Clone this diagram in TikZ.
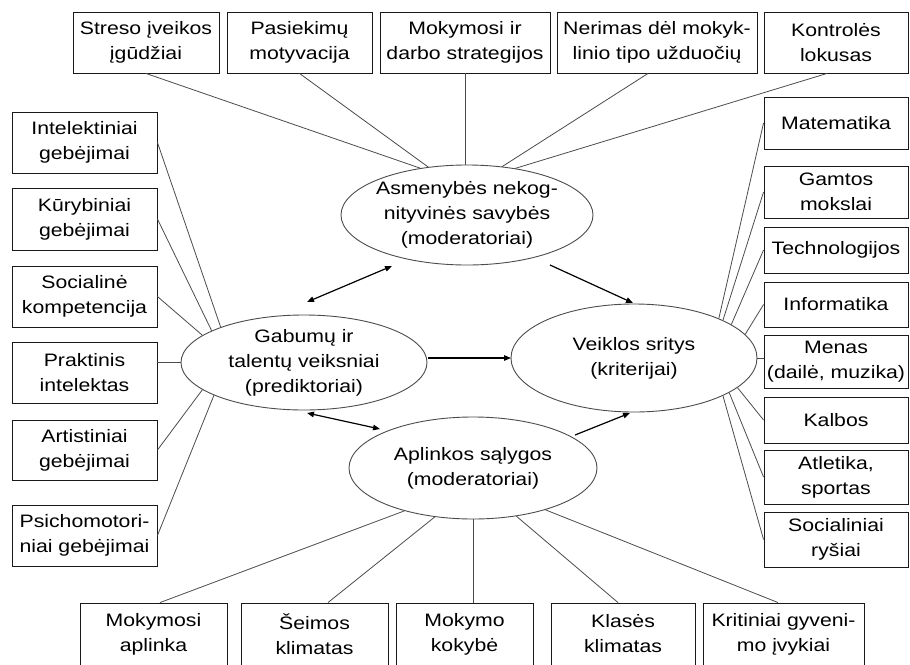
\documentclass[tikz,border=0pt]{standalone}
\usepackage{fontspec}
\setmainfont{Liberation Sans}[FakeStretch=1.18]
\usetikzlibrary{arrows.meta,shapes.geometric,calc}
\begin{document}
\begin{tikzpicture}[x=1pt,y=-1pt,
  box/.style={draw=black!90, line width=0.9pt, rectangle, inner sep=0pt, align=center, font=\fontsize{18}{25}\selectfont},
  oval/.style={draw=black!70, line width=0.9pt, ellipse, inner sep=0pt, align=center, font=\fontsize{18}{25}\selectfont},
  link/.style={draw=black!70, line width=0.8pt},
  arr/.style={draw=black, line width=1.2pt, -{Triangle[length=7pt,width=5.5pt]}},
  darr/.style={draw=black, line width=1.2pt, {Triangle[length=7pt,width=5.5pt]}-{Triangle[length=7pt,width=5.5pt]}}
]
\useasboundingbox (0,0) rectangle (910,664);
\fill[white] (0,0) rectangle (910,664);
\clip (0,0) rectangle (910,664);

% top boxes
\node[box, minimum width=146, minimum height=61] (t1) at (146,42.5) {Streso įveikos\\įgūdžiai};
\node[box, minimum width=145, minimum height=61] (t2) at (299.5,42.5) {Pasiekimų\\motyvacija};
\node[box, minimum width=170, minimum height=61] (t3) at (465,42.5) {Mokymosi ir\\darbo strategijos};
\node[box, minimum width=200, minimum height=61] (t4) at (657,42.5) {Nerimas dėl mokyk-\\linio tipo užduočių};
\node[box, minimum width=144, minimum height=61] (t5) at (836,42.5) {Kontrolės\\lokusas};

% left boxes
\node[box, minimum width=145, minimum height=61] (l1) at (84.5,142.5) {Intelektiniai\\gebėjimai};
\node[box, minimum width=145, minimum height=62] (l2) at (84.5,219) {Kūrybiniai\\gebėjimai};
\node[box, minimum width=145, minimum height=61] (l3) at (84.5,296.5) {Socialinė\\kompetencija};
\node[box, minimum width=145, minimum height=61] (l4) at (84.5,372.5) {Praktinis\\intelektas};
\node[box, minimum width=145, minimum height=60] (l5) at (84.5,450) {Artistiniai\\gebėjimai};
\node[box, minimum width=145, minimum height=61] (l6) at (84.5,535.5) {Psichomotori-\\niai gebėjimai};

% right boxes
\node[box, minimum width=144, minimum height=52] (r1) at (836,123) {Matematika};
\node[box, minimum width=144, minimum height=52] (r2) at (836,192) {Gamtos\\mokslai};
\node[box, minimum width=144, minimum height=46] (r3) at (836,250) {Technologijos};
\node[box, minimum width=144, minimum height=45] (r4) at (836,304.5) {Informatika};
\node[box, minimum width=144, minimum height=53] (r5) at (836,361.5) {Menas\\(dailė, muzika)};
\node[box, minimum width=144, minimum height=46] (r6) at (836,420) {Kalbos};
\node[box, minimum width=144, minimum height=54] (r7) at (836,477) {Atletika,\\sportas};
\node[box, minimum width=144, minimum height=55] (r8) at (836,539.5) {Socialiniai\\ryšiai};

% bottom boxes
\node[box, minimum width=147, minimum height=62] (b1) at (153.5,634) {Mokymosi\\aplinka};
\node[box, minimum width=147, minimum height=62] (b2) at (314.5,634) {Šeimos\\klimatas};
\node[box, minimum width=137, minimum height=62] (b3) at (464.5,634) {Mokymo\\kokybė};
\node[box, minimum width=144, minimum height=62] (b4) at (623,634) {Klasės\\klimatas};
\node[box, minimum width=161, minimum height=62] (b5) at (783.5,634) {Kritiniai gyveni-\\mo įvykiai};

% ellipses
\node[oval, inner xsep=-3pt, minimum width=252, minimum height=100] (asm) at (467,215) {Asmenybės nekog-\\nityvinės savybės\\(moderatoriai)};
\node[oval, minimum width=246, minimum height=95] (gab) at (304,362.5) {Gabumų ir\\talentų veiksniai\\(prediktoriai)};
\node[oval, minimum width=246, minimum height=108] (veik) at (634,358) {Veiklos sritys\\(kriterijai)};
\node[oval, minimum width=248, minimum height=102] (apl) at (473,468) {Aplinkos sąlygos\\(moderatoriai)};

% connectors top
\draw[link] (t1.south) -- (asm.135);
\draw[link] (t2.south) -- (asm.129);
\draw[link] (t3.south) -- (t3.south |- asm.north);
\draw[link] ([xshift=-9pt]t4.south) -- (asm.54);
\draw[link] ([xshift=-9pt]t5.south) -- (asm.44);

% connectors left
\draw[link] (l1.east) -- (gab.157);
\draw[link] (l2.east) -- (gab.161);
\draw[link] (l3.east) -- (gab.165);
\draw[link] (gab.west) -- (gab.west -| l4.east);
\draw[link] (l5.east) -- (gab.195);
\draw[link] (l6.east) -- (gab.200);

% connectors right
\draw[link] (r1.west) -- (veik.25);
\draw[link] (r2.west) -- (veik.23);
\draw[link] (r3.west) -- (veik.19);
\draw[link] (r4.west) -- (veik.12);
\draw[link] (veik.east) -- (veik.east -| r5.west);
\draw[link] (r6.west) -- (veik.344);
\draw[link] (r7.west) -- (veik.340);
\draw[link] (r8.west) -- (veik.337);

% connectors bottom
\draw[link] ([xshift=6.5pt]b1.north) -- (apl.212);
\draw[link] ([xshift=13.5pt]b2.north) -- (apl.232);
\draw[link] (b3.north -| apl.south) -- (apl.south);
\draw[link] ([xshift=-5pt]b4.north) -- (apl.312);
\draw[link] ([xshift=-5.5pt]b5.north) -- (apl.330);

% arrows
\coordinate (a1s) at (307,302);
\coordinate (a1e) at (392,266);
\coordinate (a2s) at (550,265);
\coordinate (a2e) at (633,303);
\coordinate (a3s) at (428,358);
\coordinate (a3e) at (511,358);
\coordinate (a4s) at (307,413);
\coordinate (a4e) at (380,429);
\coordinate (a5s) at (575,435);
\coordinate (a5e) at (630,413);
\draw[darr] (a1s) -- (a1e);
\draw[arr] (a2s) -- (a2e);
\draw[arr] (a3s) -- (a3e);
\draw[darr] (a4s) -- (a4e);
\draw[arr] (a5s) -- (a5e);
\end{tikzpicture}
\end{document}
